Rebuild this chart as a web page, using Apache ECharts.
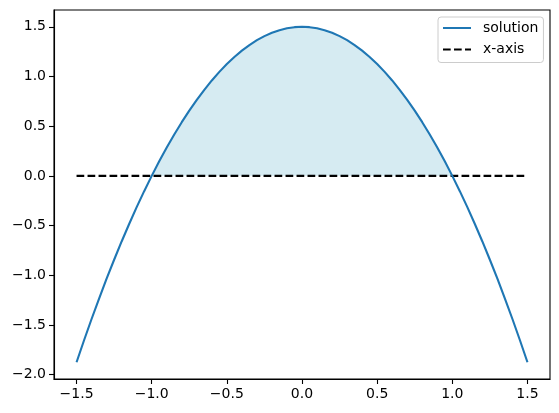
<!DOCTYPE html>
<html>
<head>
<meta charset="utf-8">
<script src="https://cdn.jsdelivr.net/npm/echarts@6/dist/echarts.min.js"></script>
<style>
html,body{margin:0;padding:0;background:#fff;}
#c{width:559px;height:413px;}
</style>
</head>
<body>
<div id="c"></div>
<script>
// Data
const xValues = [-1.5,-1.45,-1.4,-1.35,-1.3,-1.25,-1.2,-1.15,-1.1,-1.05,-1.0,-0.95,-0.9,-0.85,-0.8,-0.75,
                 -0.7,-0.65,-0.6,-0.55,-0.5,-0.45,-0.4,-0.35,-0.3,-0.25,-0.2,-0.15,-0.1,-0.05,0,
                 0.05,0.1,0.15,0.2,0.25,0.3,0.35,0.4,0.45,0.5,0.55,0.6,0.65,0.7,0.75,
                 0.8,0.85,0.9,0.95,1.0,1.05,1.1,1.15,1.2,1.25,1.3,1.35,1.4,1.45,1.5];
const solution = [-1.875,-1.654,-1.44,-1.234,-1.035,-0.844,-0.66,-0.484,-0.315,-0.154,0,0.146,0.285,0.416,0.54,0.656,
                  0.765,0.866,0.96,1.046,1.125,1.196,1.26,1.316,1.365,1.406,1.44,1.466,1.485,1.496,1.5,
                  1.496,1.485,1.466,1.44,1.406,1.365,1.316,1.26,1.196,1.125,1.046,0.96,0.866,0.765,0.656,
                  0.54,0.416,0.285,0.146,0,-0.154,-0.315,-0.484,-0.66,-0.844,-1.035,-1.234,-1.44,-1.654,-1.875];
const axisLineX = [-1.5, 1.5];
const axisLineY = [0, 0];
const xTicks = [-1.5,-1.0,-0.5,0.0,0.5,1.0,1.5];
const yTicks = [-2.0,-1.5,-1.0,-0.5,0.0,0.5,1.0,1.5];

const solData = xValues.map((x,i)=>[x, solution[i]]);
const fillData = solData.filter(p => p[1] >= 0);
const axData = axisLineX.map((x,i)=>[x, axisLineY[i]]);

const font = 'DejaVu Sans';
const fmt = v=>(v<0?'\u2212':'')+Math.abs(v).toFixed(1);
const chart = echarts.init(document.getElementById('c'), null, {renderer:'canvas'});
chart.setOption({
  animation:false,
  backgroundColor:'#fff',
  textStyle:{fontFamily:font},
  grid:{left:54, top:10, width:496, height:369, show:true, borderColor:'#000', borderWidth:1.1, backgroundColor:'transparent'},
  legend:{
    orient:'vertical', left:438, top:17,
    data:['solution','x-axis'],
    itemWidth:28, itemHeight:14, itemGap:7.5,
    padding:[4,5,6,4],
    borderColor:'#cccccc', borderWidth:1, borderRadius:3,
    backgroundColor:'rgba(255,255,255,0.8)',
    itemStyle:{opacity:0},
    textStyle:{fontFamily:font, fontSize:14, color:'#000', padding:[0,0,0,7]}
  },
  xAxis:{
    type:'value', min:-1.65, max:1.65,
    axisLine:{show:true, onZero:false, lineStyle:{color:'#000', width:1.1}},
    axisTick:{show:true, length:5, lineStyle:{color:'#000', width:1.1}, customValues:xTicks},
    axisLabel:{fontFamily:font, fontSize:14, color:'#000', margin:8, customValues:xTicks, formatter:fmt},
    splitLine:{show:false}
  },
  yAxis:{
    type:'value', min:-2.04375, max:1.66875,
    axisLine:{show:true, onZero:false, lineStyle:{color:'#000', width:1.1}},
    axisTick:{show:true, length:5, lineStyle:{color:'#000', width:1.1}, customValues:yTicks},
    axisLabel:{fontFamily:font, fontSize:14, color:'#000', margin:8, customValues:yTicks, formatter:fmt},
    splitLine:{show:false}
  },
  series:[
    {name:'fill', type:'line', data:fillData, showSymbol:false, symbol:'none', z:1,
     lineStyle:{width:0, opacity:0}, areaStyle:{color:'#d6ebf2', opacity:1, origin:0}, silent:true},
    {name:'solution', type:'line', data:solData, showSymbol:false, symbol:'none', z:3,
     lineStyle:{color:'#1f77b4', width:2.1}, itemStyle:{color:'#1f77b4'}},
    {name:'x-axis', type:'line', data:axData, showSymbol:false, symbol:'none', z:2,
     lineStyle:{color:'#000', width:2.1, type:[7.7,3.3]}, itemStyle:{color:'#000'}}
  ]
});
</script>
</body>
</html>
